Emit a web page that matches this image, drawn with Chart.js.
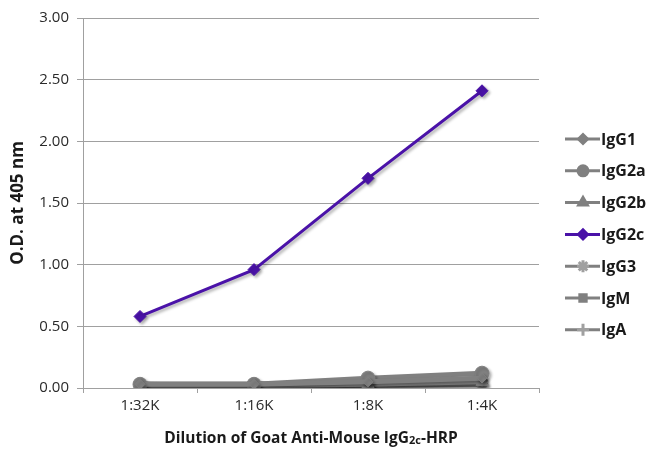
<!DOCTYPE html>
<html>
<head>
<meta charset="utf-8">
<script src="https://cdn.jsdelivr.net/npm/chart.js@4.4.1/dist/chart.umd.min.js"></script>
<style>
  html, body { margin: 0; padding: 0; background: #fff; }
  #wrap { width: 651px; height: 450px; }
</style>
</head>
<body>
<div id="wrap"><canvas id="chart" width="651" height="450"></canvas></div>
<script>
const categories = ['1:32K', '1:16K', '1:8K', '1:4K'];
const seriesNames = ['IgG1', 'IgG2a', 'IgG2b', 'IgG2c', 'IgG3', 'IgM', 'IgA'];
const igg1 = [0.03, 0.03, 0.05, 0.08];
const igg2a = [0.03, 0.03, 0.08, 0.12];
const igg2b = [0.02, 0.02, 0.03, 0.05];
const igg2c = [0.58, 0.96, 1.70, 2.41];
const igg3 = [0.03, 0.03, 0.04, 0.06];
const igm = [0.03, 0.02, 0.03, 0.04];
const iga = [0.02, 0.02, 0.02, 0.03];
const yTicks = [0, 0.5, 1, 1.5, 2, 2.5, 3];

const GRAY = '#808080';
const PURPLE = '#4a12a8';
const FONT = '"Open Sans", "DejaVu Sans", sans-serif';

const seriesValues = [igg1, igg2a, igg2b, igg2c, igg3, igm, iga];
const pointStyles = ['rectRot', 'circle', 'triangle', 'rectRot', 'star', 'rect', 'cross'];
const pointSizes = [5, 7, 7, 6, 6, 6, 6];

const datasets = seriesNames.map((name, i) => {
  const purple = name === 'IgG2c';
  const color = purple ? PURPLE : GRAY;
  return {
    label: name,
    data: seriesValues[i],
    borderColor: color,
    backgroundColor: color,
    borderWidth: purple ? 3 : 5,
    pointStyle: pointStyles[i],
    pointRadius: pointSizes[i],
    pointBorderWidth: pointStyles[i] === 'star' || pointStyles[i] === 'cross' ? 2 : 1,
    pointBorderColor: color,
    pointBackgroundColor: color,
    tension: 0,
    order: purple ? 0 : 1
  };
});

const shadowPlugin = {
  id: 'shadow',
  beforeDatasetDraw(chart) {
    const ctx = chart.ctx;
    ctx.save();
    ctx.shadowColor = 'rgba(0,0,0,0.3)';
    ctx.shadowBlur = 3;
    ctx.shadowOffsetX = 2;
    ctx.shadowOffsetY = 2;
  },
  afterDatasetDraw(chart) {
    chart.ctx.restore();
  }
};

const extrasPlugin = {
  id: 'extras',
  afterDraw(chart) {
    const ctx = chart.ctx;
    const area = chart.chartArea;
    ctx.save();
    ctx.fillStyle = '#1a1a1a';
    ctx.textBaseline = 'alphabetic';

    // y axis title
    ctx.save();
    ctx.translate(17, (area.top + area.bottom) / 2);
    ctx.rotate(-Math.PI / 2);
    ctx.font = 'bold 17px ' + FONT;
    ctx.textAlign = 'center';
    ctx.fillText('O.D. at 405 nm', 0, 6);
    ctx.restore();

    // x axis title with small "2c"
    const parts = [
      ['Dilution of Goat Anti-Mouse IgG', 'bold 15.5px ' + FONT, 0],
      ['2c', 'bold 11px ' + FONT, 1],
      ['-HRP', 'bold 15.5px ' + FONT, 0]
    ];
    let total = 0;
    parts.forEach((p) => { ctx.font = p[1]; total += ctx.measureText(p[0]).width; });
    let x = (area.left + area.right) / 2 - total / 2;
    ctx.textAlign = 'left';
    parts.forEach((p) => {
      ctx.font = p[1];
      ctx.fillText(p[0], x, 443 + p[2]);
      x += ctx.measureText(p[0]).width;
    });

    // legend
    chart.data.datasets.forEach((ds, i) => {
      const y = 139 + i * 31.8;
      const thin = ds.pointStyle === 'star' || ds.pointStyle === 'cross';
      ctx.strokeStyle = ds.borderColor;
      ctx.fillStyle = ds.borderColor;
      ctx.lineWidth = 3;
      ctx.beginPath();
      ctx.moveTo(565, y);
      ctx.lineTo(600, y);
      ctx.stroke();
      if (thin) ctx.strokeStyle = '#a0a0a0';
      Chart.helpers.drawPoint(ctx, {
        pointStyle: ds.pointStyle,
        radius: ds.pointStyle === 'circle' || ds.pointStyle === 'triangle' ? 5 : (thin ? 6 : 4.5),
        rotation: 0,
        borderWidth: thin ? 1.2 : 1
      }, 583, y);
      ctx.fillStyle = '#1a1a1a';
      ctx.font = 'bold 16px ' + FONT;
      ctx.textAlign = 'left';
      ctx.fillText(ds.label, 601, y + 5.5);
    });
    ctx.restore();
  }
};

new Chart(document.getElementById('chart'), {
  type: 'line',
  data: { labels: categories, datasets },
  options: {
    responsive: false,
    animation: false,
    devicePixelRatio: 1,
    layout: { padding: { top: 18, right: 112, left: 0, bottom: 0 } },
    plugins: { legend: { display: false }, tooltip: { enabled: false } },
    scales: {
      x: {
        offset: true,
        afterFit: (s) => { s.height = 62; },
        grid: { offset: true, drawOnChartArea: false, drawTicks: true, tickLength: 5, color: '#a0a0a0' },
        border: { color: '#a0a0a0', width: 1 },
        ticks: { color: '#2a2a2a', font: { family: FONT, size: 15 }, padding: 4 }
      },
      y: {
        min: 0,
        max: 3,
        afterFit: (s) => { s.width = 83; },
        afterBuildTicks: (s) => { s.ticks = yTicks.map((v) => ({ value: v })); },
        grid: { color: '#a0a0a0', tickLength: 6 },
        border: { color: '#a0a0a0', width: 1 },
        ticks: {
          color: '#2a2a2a',
          font: { family: FONT, size: 15 },
          padding: 8,
          callback: (v) => Number(v).toFixed(2)
        }
      }
    }
  },
  plugins: [shadowPlugin, extrasPlugin]
});
</script>
</body>
</html>
